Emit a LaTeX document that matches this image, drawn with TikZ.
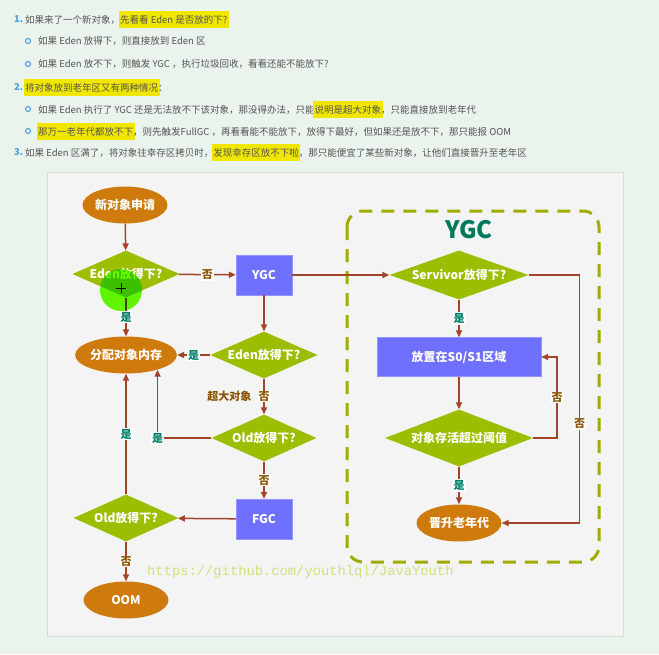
\documentclass[tikz,border=0pt]{standalone}
\usepackage{fontspec}
\setmainfont{Noto Sans CJK SC}
\newfontfamily\urlfont{Liberation Mono}
\usetikzlibrary{shapes.geometric,arrows.meta}

\definecolor{bggreen}{HTML}{EAF3EC}
\definecolor{panelgray}{HTML}{F4F4F4}
\definecolor{panelline}{HTML}{D6DCD6}
\definecolor{bodygray}{HTML}{555555}
\definecolor{numblue}{HTML}{4AA3E3}
\definecolor{hlyellow}{HTML}{F0E600}
\definecolor{ovalorange}{HTML}{CF7A0C}
\definecolor{diagreen}{HTML}{9BBE00}
\definecolor{boxblue}{HTML}{7070FF}
\definecolor{arrowred}{HTML}{A3432B}
\definecolor{yesteal}{HTML}{00806A}
\definecolor{nobrown}{HTML}{8A5300}
\definecolor{dashgreen}{HTML}{A0AC00}
\definecolor{titlegreen}{HTML}{00795B}
\definecolor{urlgreen}{HTML}{CDE37E}
\definecolor{cursorlime}{HTML}{66FF00}

\newcommand\flowfont{\fontsize{12}{12}\selectfont\bfseries}
\newcommand\labfont{\fontsize{11}{11}\selectfont\bfseries}
\newcommand\hlmark[1]{\sbox0{#1}\rlap{\color{hlyellow}\hspace{-1.5pt}\rule[-4.5pt]{\dimexpr\wd0+3pt\relax}{17pt}}\usebox0}

\tikzset{
  txt/.style={anchor=west, inner sep=0pt, text=bodygray, font=\fontsize{9.5}{11}\selectfont},
  num/.style={anchor=west, inner sep=0pt, text=numblue, font=\fontsize{9.5}{11}\selectfont\bfseries},
  bullet/.style={circle, draw=numblue, line width=1.1pt, inner sep=0pt, minimum size=5pt},
  terminal/.style={ellipse, fill=ovalorange, text=white, font=\flowfont, inner sep=0pt, minimum width=85pt, minimum height=37pt},
  decision/.style={diamond, aspect=3, fill=diagreen, text=white, font=\flowfont, inner sep=0pt, minimum width=105pt, minimum height=47pt},
  process/.style={rectangle, fill=boxblue, draw=boxblue!75!white, text=white, font=\flowfont, minimum width=56pt, minimum height=40pt},
  flow/.style={draw=arrowred, line width=1.5pt, -{Triangle[length=7pt,width=6pt]}},
  yes/.style={fill=white, text=yesteal, font=\labfont, inner sep=1pt},
  no/.style={fill=white, text=nobrown, font=\labfont, inner sep=1pt},
}

\begin{document}
\begin{tikzpicture}[x=1pt, y=-1pt]
% page and chart panel
\fill[bggreen] (0,0) rectangle (659,654);
\useasboundingbox (0,0) rectangle (659,654);
\filldraw[fill=panelgray, draw=panelline] (47,172) rectangle (623,636);

% notes above the chart
\node[num] (n1) at (14,19) {1.};
\node[txt] (t1) at (25,19) {如果来了一个新对象，\hlmark{先看看 Eden 是否放的下?}};
\node[bullet] (b1) at (28,41) {};
\node[txt] (t2) at (38,41) {如果 Eden 放得下，则直接放到 Eden 区};
\node[bullet] (b2) at (28,64) {};
\node[txt] (t3) at (38,64) {如果 Eden 放不下，则触发 YGC ，执行垃圾回收，看看还能不能放下?};
\node[num] (n2) at (14,87) {2.};
\node[txt] (t4) at (25,87) {\hlmark{将对象放到老年区又有两种情况}：};
\node[bullet] (b3) at (28,109) {};
\node[txt] (t5) at (38,109) {如果 Eden 执行了 YGC 还是无法放不下该对象，那没得办法，只能\hlmark{说明是超大对象}，只能直接放到老年代};
\node[bullet] (b4) at (28,131) {};
\node[txt] (t6) at (38,131) {\hlmark{那万一老年代都放不下}，则先触发FullGC ，再看看能不能放下，放得下最好，但如果还是放不下，那只能报 OOM};
\node[num] (n3) at (14,152) {3.};
\node[txt] (t7) at (25,152) {如果 Eden 区满了，将对象往幸存区拷贝时，\hlmark{发现幸存区放不下啦}，那只能便宜了某些新对象，让他们直接晋升至老年区};

% YGC region
\draw[dashgreen, line width=3pt, dash pattern=on 13pt off 9pt, rounded corners=16pt] (347,211) rectangle (599,562);
\node[font=\fontsize{24}{24}\selectfont\bfseries, text=titlegreen] (ygctitle) at (469,230) {YGC};

% flow nodes
\node[terminal] (start) at (125,205) {新对象申请};
\node[decision] (edenA) at (126,274) {Eden放得下?};
\node[process] (ygc) at (264,275) {YGC};
\node[terminal] (alloc) at (126,355) {分配对象内存};
\node[decision] (edenB) at (264,355) {Eden放得下?};
\node[decision] (oldA) at (264,438) {Old放得下?};
\node[process] (fgc) at (264,519) {FGC};
\node[decision] (oldB) at (126,518) {Old放得下?};
\node[terminal] (oom) at (126,600) {OOM};
\node[decision, minimum width=139pt, minimum height=49pt] (surv) at (459,275) {Servivor放得下?};
\node[process, minimum width=164pt, minimum height=39pt] (survbox) at (459,357) {放置在S0/S1区域};
\node[decision, minimum width=148pt, minimum height=57pt] (age) at (459,438) {对象存活超过阈值};
\node[terminal] (promote) at (459,523) {晋升老年代};

% connectors
\draw[flow] (start) -- (edenA);
\draw[flow] (edenA) -- node[no] {否} (ygc);
\draw[flow] (edenA) -- node[yes] {是} (alloc);
\draw[flow] (ygc) -- (edenB);
\draw[flow] (edenB) -- node[yes] {是} (alloc);
\draw[flow] (edenB) -- node[no] (bigno) {否} (oldA);
\node[text=nobrown, font=\labfont, anchor=east] (big) at (bigno.west) {超大对象\,};
\draw[flow] (oldA.west) -| node[yes, pos=0.5] {是} (alloc.-25);
\draw[flow] (oldA) -- node[no] {否} (fgc);
\draw[flow] (fgc) -- (oldB);
\draw[flow] (oldB) -- node[yes] {是} (alloc);
\draw[flow] (oldB) -- node[no] {否} (oom);
\draw[flow] (ygc) -- (surv);
\draw[flow] (surv) -- node[yes] {是} (survbox);
\draw[flow] (survbox) -- (age);
\draw[flow] (age) -- node[yes] {是} (promote);
\draw[flow] (surv.east) -- ++(51,0) |- node[no, pos=0.3] {否} (promote.east);
\draw[flow] (age.east) -- ++(24,0) |- node[no, pos=0.25] {否} (survbox.east);

% watermark
\node[anchor=west, inner sep=0pt, text=urlgreen, font=\urlfont\fontsize{13.8}{14}\selectfont] (url) at (147,572) {https://github.com/youthlql/JavaYouth};

% pointer mark on the first check
\fill[cursorlime, blend mode=multiply] (121,290) circle (21);
\draw[black, line width=1pt] (116,288) -- (126,288) (121,283) -- (121,293);
\end{tikzpicture}
\end{document}
